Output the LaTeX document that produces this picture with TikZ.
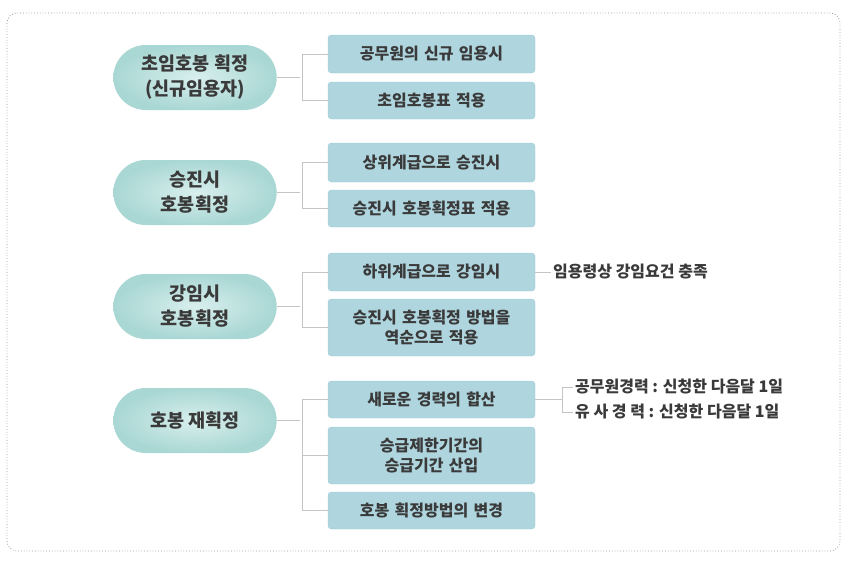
\documentclass[tikz,border=0pt]{standalone}
\usepackage{fontspec}
\setmainfont{Noto Sans CJK KR}
\usepackage{xcolor}
\usetikzlibrary{shapes.misc,positioning,calc}
\definecolor{inkgray}{HTML}{3A3A3A}
\definecolor{linegray}{HTML}{C4C4C4}
\definecolor{framegray}{HTML}{9A9A9A}
\definecolor{pillin}{HTML}{D8EFED}
\definecolor{pillout}{HTML}{A9D7D4}
\definecolor{boxfill}{HTML}{AFD6DF}
\definecolor{boxedge}{HTML}{9CCBD6}

\begin{document}
\begin{tikzpicture}[x=1pt, y=-1pt,
  every node/.style={font=\fontsize{16}{20}\selectfont\bfseries, text=inkgray},
  pill/.style={rounded rectangle, minimum width=170pt, minimum height=65pt,
               inner color=pillin, outer color=pillout, align=center,
               font=\fontsize{18.5}{25}\selectfont\bfseries},
  item/.style={rectangle, rounded corners=3.5pt, minimum width=207pt,
               text width=200pt, align=center, inner sep=0pt,
               fill=boxfill, draw=boxedge, line width=0.4pt},
  note/.style={anchor=west, inner sep=2pt},
  link/.style={draw=linegray, line width=0.9pt}
]
\useasboundingbox (0,0) rectangle (853,562);
\draw[framegray, dotted, line width=0.8pt, rounded corners=10pt] (7,13) rectangle (840,551);

% left column
\node[pill] (first)  at (195,77.5)  {초임호봉 획정\\(신규임용자)};
\node[pill] (promo)  at (195,192.5) {승진시\\호봉획정};
\node[pill] (demo)   at (195,306.5) {강임시\\호봉획정};
\node[pill] (regrade) at (195,420.5) {호봉 재획정};

% right column
\node[item, minimum height=38pt] (firstA) at (431.5,54)    {공무원의 신규 임용시};
\node[item, minimum height=37pt] (firstB) at (431.5,100.5) {초임호봉표 적용};
\node[item, minimum height=39pt] (promoA) at (431.5,162.5) {상위계급으로 승진시};
\node[item, minimum height=37pt] (promoB) at (431.5,208.5) {승진시 호봉획정표 적용};
\node[item, minimum height=38pt] (demoA)  at (431.5,272)   {하위계급으로 강임시};
\node[item, minimum height=57pt] (demoB)  at (431.5,327.5) {승진시 호봉획정 방법을\\역순으로 적용};
\node[item, minimum height=37pt] (regA)   at (431.5,399.5) {새로운 경력의 합산};
\node[item, minimum height=57pt] (regB)   at (431.5,455.5) {승급제한기간의\\승급기간 산입};
\node[item, minimum height=37pt] (regC)   at (431.5,510.5) {호봉 획정방법의 변경};

% side notes
\node[note] (demoNote) at (551,272) {임용령상 강임요건 충족};
\node[note] (regNoteA) at (573,387) {공무원경력 : 신청한 다음달 1일};
\node[note] (regNoteB) at (573,412) {유 사 경 력 : 신청한 다음달 1일};

% connectors
\draw[link] (first.east) -- ++(23,0);
\draw[link] (firstA.west) -- ++(-25,0) |- (firstB.west);
\draw[link] (promo.east) -- ++(23,0);
\draw[link] (promoA.west) -- ++(-25,0) |- (promoB.west);
\draw[link] (demo.east) -- ++(23,0);
\draw[link] (demoA.west) -- ++(-25,0) |- (demoB.west);
\draw[link] (regrade.east) -- ++(23,0);
\draw[link] (regA.west) -- ++(-25,0) |- (regC.west);
\draw[link] (regB.west) -- ++(-25,0);
\draw[link] (demoA.east) -- (demoNote.west);
\draw[link] (regA.east) -- ++(27,0) coordinate (regFork);
\draw[link] (regNoteA.west) -| (regFork) |- (regNoteB.west);
\end{tikzpicture}
\end{document}
